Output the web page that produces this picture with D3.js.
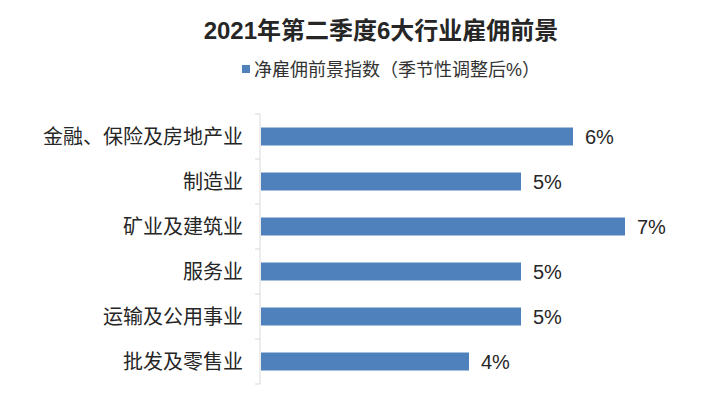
<!DOCTYPE html>
<html>
<head>
<meta charset="utf-8">
<script src="https://cdn.jsdelivr.net/npm/d3@7"></script>
<style>
  body { margin: 0; background: #fff; }
  text { font-family: "Liberation Sans", Arial, "Noto Sans CJK SC", sans-serif; }
</style>
</head>
<body>
<div id="chart"></div>
<script>
// data
var categories = ["金融、保险及房地产业", "制造业", "矿业及建筑业", "服务业", "运输及公用事业", "批发及零售业"];
var values = [6, 5, 7, 5, 5, 4];
var seriesName = "净雇佣前景指数（季节性调整后%）";
var title = "2021年第二季度6大行业雇佣前景";

var W = 721, H = 395;
var barColor = "#4f81bd";

var svg = d3.select("#chart").append("svg")
  .attr("width", W)
  .attr("height", H);

// scales
var x = d3.scaleLinear().domain([0, 7]).range([261, 625]);
var y = d3.scaleBand().domain(categories).range([114, 384]).paddingInner(0.6).paddingOuter(0.3);

// title
svg.append("text")
  .attr("x", 381)
  .attr("y", 39)
  .attr("text-anchor", "middle")
  .style("font-size", "24px")
  .style("font-weight", "bold")
  .style("fill", "#262626")
  .text(title);

// legend
var lg = svg.append("g");
lg.append("rect")
  .attr("x", 242).attr("y", 65)
  .attr("width", 8).attr("height", 8)
  .attr("fill", barColor);
lg.append("text")
  .attr("x", 254).attr("y", 76)
  .style("font-size", "18px")
  .style("fill", "#333")
  .text(seriesName);

// y axis line with ticks between bands
var axisG = svg.append("g");
axisG.append("line")
  .attr("x1", 260).attr("x2", 260)
  .attr("y1", 114).attr("y2", 384)
  .attr("stroke", "#d9d9d9");
var bounds = d3.range(categories.length + 1).map(function (i) { return 114 + i * y.step(); });
axisG.selectAll(".tk").data(bounds).enter().append("line")
  .attr("class", "tk")
  .attr("x1", 255).attr("x2", 260)
  .attr("y1", function (d) { return d; })
  .attr("y2", function (d) { return d; })
  .attr("stroke", "#d9d9d9");

// category labels
svg.selectAll(".cat").data(categories).enter().append("text")
  .attr("class", "cat")
  .attr("x", 243)
  .attr("y", function (d) { return y(d) + y.bandwidth() / 2; })
  .attr("dy", "0.36em")
  .attr("text-anchor", "end")
  .style("font-size", "20px")
  .style("fill", "#262626")
  .text(function (d) { return d; });

// bars
svg.selectAll(".bar").data(values).enter().append("rect")
  .attr("class", "bar")
  .attr("x", x(0))
  .attr("y", function (d, i) { return y(categories[i]); })
  .attr("width", function (d) { return x(d) - x(0); })
  .attr("height", y.bandwidth())
  .attr("fill", barColor);

// value labels
svg.selectAll(".val").data(values).enter().append("text")
  .attr("class", "val")
  .attr("x", function (d) { return x(d) + 12; })
  .attr("y", function (d, i) { return y(categories[i]) + y.bandwidth() / 2; })
  .attr("dy", "0.36em")
  .style("font-size", "20px")
  .style("fill", "#262626")
  .text(function (d) { return d + "%"; });
</script>
</body>
</html>
